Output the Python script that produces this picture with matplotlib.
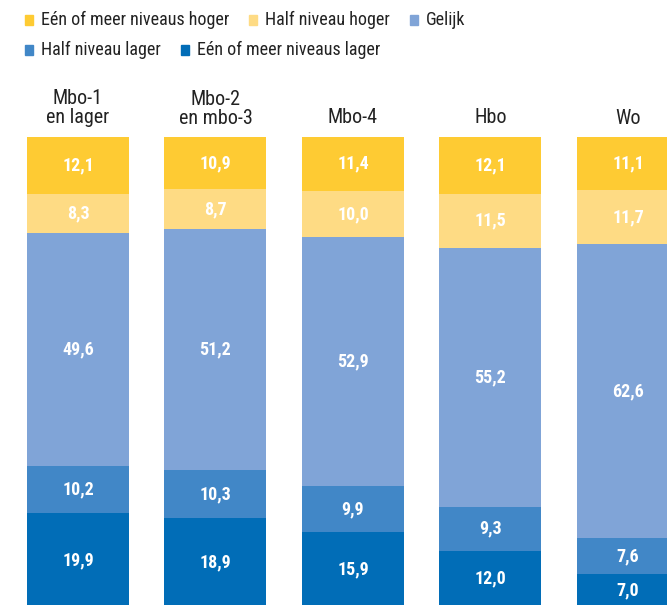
import matplotlib.pyplot as plt
import numpy as np
from matplotlib.patches import Rectangle

plt.rcParams['font.family'] = ['Roboto Condensed', 'Roboto', 'DejaVu Sans']

categories = ['Mbo-1\nen lager', 'Mbo-2\nen mbo-3', 'Mbo-4', 'Hbo', 'Wo']
series = ['Eén of meer niveaus hoger', 'Half niveau hoger', 'Gelijk',
          'Half niveau lager', 'Eén of meer niveaus lager']
een_hoger = [12.1, 10.9, 11.4, 12.1, 11.1]
half_hoger = [8.3, 8.7, 10.0, 11.5, 11.7]
gelijk = [49.6, 51.2, 52.9, 55.2, 62.6]
half_lager = [10.2, 10.3, 9.9, 9.3, 7.6]
een_lager = [19.9, 18.9, 15.9, 12.0, 7.0]
colors = ['#FECB33', '#FEDB84', '#80A4D7', '#4187C7', '#016DB7']

# stacked from the bottom up
stack = [een_lager, half_lager, gelijk, half_hoger, een_hoger]
stack_colors = colors[::-1]

W, H = 667, 605
fig = plt.figure(figsize=(W / 100, H / 100), dpi=100)
ax = fig.add_axes([0, 0, 1, (H - 137) / H])

x = np.arange(len(categories))
bottom = np.zeros(len(categories))
for vals, col in zip(stack, stack_colors):
    vals = np.array(vals)
    ax.bar(x, vals, bottom=bottom, width=0.742, color=col, linewidth=0)
    for xi, b, v in zip(x, bottom, vals):
        ax.text(xi, b + v / 2, f'{v:.1f}'.replace('.', ','), ha='center', va='center',
                color='white', fontsize=13, fontweight='bold')
    bottom += vals

for xi, cat in zip(x, categories):
    ax.annotate(cat, (xi, bottom[xi]), xytext=(0, 7), textcoords='offset points',
                ha='center', va='bottom', fontsize=14.5, color='#222222',
                linespacing=1.0, annotation_clip=False)

ax.set_xlim(-0.567, 4.284)
ax.set_ylim(0.4, 100.1)
ax.axis('off')

# legend drawn by hand
legend_pos = [(25, 20), (249, 20), (410, 20), (25, 50), (181, 50)]
for (px, py), name, col in zip(legend_pos, series, colors):
    fig.patches.append(Rectangle((px / W, 1 - (py + 5) / H), 8 / W, 10 / H,
                                 transform=fig.transFigure, color=col))
    fig.text((px + 16) / W, 1 - py / H, name, ha='left', va='center',
             fontsize=13, color='#222222')

fig.savefig('out.png', dpi=100)
